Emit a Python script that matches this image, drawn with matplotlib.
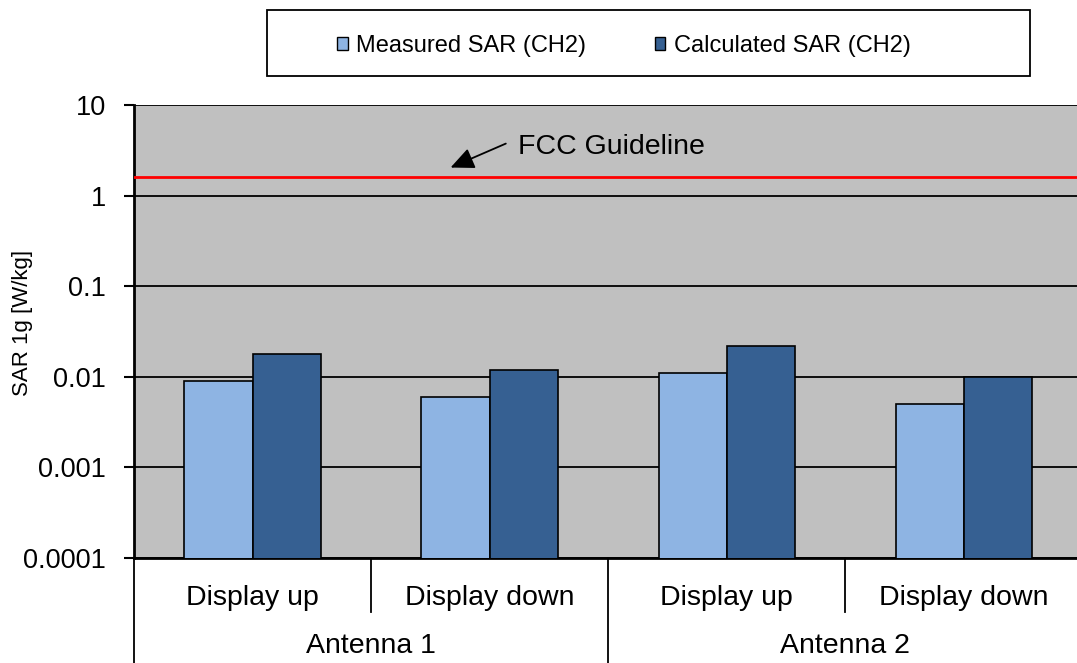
import numpy as np
import matplotlib
matplotlib.use('Agg')
import matplotlib.pyplot as plt
from matplotlib.patches import Rectangle, Patch
from matplotlib.ticker import FixedLocator, FixedFormatter, NullLocator

plt.rcParams['font.family'] = ['Liberation Sans', 'DejaVu Sans']

# ---- data ----
positions = ['Display up', 'Display down', 'Display up', 'Display down']
antennas = ['Antenna 1', 'Antenna 2']
measured = [0.009, 0.006, 0.011, 0.005]
calculated = [0.018, 0.012, 0.022, 0.010]
fcc_limit = 1.6
yticks = [0.0001, 0.001, 0.01, 0.1, 1, 10]
ytick_labels = ['0.0001', '0.001', '0.01', '0.1', '1', '10']

c_meas = '#8EB4E3'
c_calc = '#366092'

W, H = 1077, 663
fig = plt.figure(figsize=(W / 100, H / 100), dpi=100)
# plot area in pixels: x 134 -> 1082 (clipped at right edge), y 105 -> 558
ax_w = 1082.5 - 134
ax = fig.add_axes([134 / W, (H - 558) / H, ax_w / W, (558 - 105) / H])
ax.set_facecolor('#C0C0C0')

x = np.arange(len(positions))
bw = 0.288
ax.bar(x - bw / 2, measured, bw, color=c_meas, edgecolor='black', linewidth=1.2, zorder=3)
ax.bar(x + bw / 2, calculated, bw, color=c_calc, edgecolor='black', linewidth=1.2, zorder=3)

ax.axhline(fcc_limit, color='#FF0000', linewidth=2, zorder=4)
ax.text(1.118, 3.4, 'FCC Guideline', fontsize=20.5, va='center', ha='left')
ax.annotate('', xy=(0.835, 2.04), xytext=(1.068, 3.75),
            arrowprops=dict(arrowstyle='-|>,head_length=0.55,head_width=0.25',
                            color='black', lw=1.3, mutation_scale=26,
                            shrinkA=0, shrinkB=0))

ax.set_yscale('log')
ax.set_ylim(0.0001, 10)
ax.set_xlim(-0.5, 3.5)
ax.yaxis.set_major_locator(FixedLocator(yticks))
ax.yaxis.set_major_formatter(FixedFormatter(ytick_labels))
ax.yaxis.set_minor_locator(NullLocator())
ax.tick_params(axis='y', labelsize=19.5, length=7, width=1.5, direction='out', pad=13)
ax.set_xticks([])
ax.yaxis.grid(True, color='black', linewidth=1.3)
ax.set_axisbelow(True)

for s in ['top', 'right']:
    ax.spines[s].set_visible(False)
ax.spines['left'].set_linewidth(2)
ax.spines['bottom'].set_linewidth(2)

ax.set_ylabel('SAR 1g [W/kg]', fontsize=16)
ax.yaxis.set_label_coords(-101 / ax_w, 0.52)

# two-level category axis
xt = ax.get_xaxis_transform()
for xs, ybot in [(-0.5, -0.235), (0.5, -0.119), (1.5, -0.235), (2.5, -0.119)]:
    ax.plot([xs, xs], [0, ybot], color='black', lw=1.3, transform=xt, clip_on=False)
for xi, lab in zip(x, positions):
    ax.text(xi, -0.088, lab, transform=xt, ha='center', va='center', fontsize=20.5)
for i, lab in enumerate(antennas):
    ax.text(0.5 + 2 * i, -0.194, lab, transform=xt, ha='center', va='center', fontsize=20.5)

# legend box
fig.patches.append(Rectangle((267 / W, 1 - 76 / H), (1030 - 267) / W, 66 / H,
                             transform=fig.transFigure, facecolor='white',
                             edgecolor='black', linewidth=1.3))
handles = [Patch(facecolor=c_meas, edgecolor='black', label='Measured SAR (CH2)'),
           Patch(facecolor=c_calc, edgecolor='black', label='Calculated SAR (CH2)')]
fig.legend(handles=handles, loc='center', bbox_to_anchor=(624 / W, 1 - 46 / H),
           ncol=2, frameon=False, fontsize=17, handlelength=0.45, handleheight=0.45,
           handletextpad=0.35, columnspacing=2.9)

fig.savefig('out.png', dpi=100)
